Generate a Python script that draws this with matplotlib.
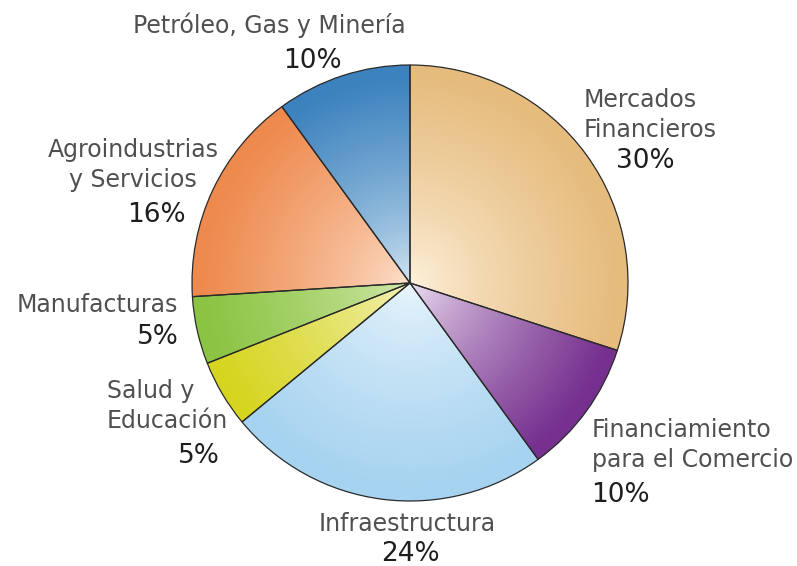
import numpy as np
import matplotlib
matplotlib.use('Agg')
import matplotlib.pyplot as plt
from matplotlib.colors import to_rgb

# ---- data ----
sectors = ['Mercados\nFinancieros', 'Financiamiento\npara el Comercio', 'Infraestructura',
           'Salud y\nEducación', 'Manufacturas', 'Agroindustrias\ny Servicios',
           'Petróleo, Gas y Minería']
shares = [30, 10, 24, 5, 5, 16, 10]
pct_labels = ['30%', '10%', '24%', '5%', '5%', '16%', '10%']
edge_colors = ['#E6BC7E', '#76308F', '#A6D3F0', '#D6D520', '#8BC443', '#EE8A4E', '#3C82BE']
center_colors = ['#FFF4E2', '#F4EAF6', '#EEF7FD', '#F6F4C4', '#D8EBB4', '#FEE6D4', '#DCECF6']

# ---- layout (pixel positions of label lines) ----
# (x, ha, first baseline) for name lines; (x, ha, baseline) for percentages
name_pos = [(584, 'left', 107), (592, 'left', 437), (407, 'center', 531),
            (107, 'left', 398), (178, 'right', 312), (133, 'center', 157),
            (269, 'center', 33)]
pct_pos = [(645, 'center', 168), (591, 'left', 502), (410, 'center', 561),
           (220, 'right', 463), (179, 'right', 344), (156, 'center', 222),
           (312, 'center', 68)]
line_step = 30

W, H = 797, 566
cx, cy, R = 410, 283, 218
fig = plt.figure(figsize=(W / 100, H / 100), dpi=100)
ax = fig.add_axes([0, 0, 1, 1])

wedges, _ = ax.pie(shares, startangle=90, counterclock=False, radius=1, center=(0, 0),
                   wedgeprops=dict(linewidth=0.9, edgecolor='#2a2a2a'))
ax.set_xlim(-cx / R, (W - cx) / R)
ax.set_ylim(-(H - cy) / R, cy / R)
ax.axis('off')

n = 700
g = np.linspace(-1, 1, n)
X, Y = np.meshgrid(g, g)
r = np.clip(np.hypot(X, Y), 0, 1)
t = np.clip(r / 0.95, 0, 1) ** 0.7
for w, ec, cc in zip(wedges, edge_colors, center_colors):
    e = np.array(to_rgb(ec)); c = np.array(to_rgb(cc))
    img = c[None, None, :] * (1 - t[..., None]) + e[None, None, :] * t[..., None]
    im = ax.imshow(img, extent=(-1, 1, -1, 1), origin='lower', zorder=1,
                   interpolation='bilinear')
    im.set_clip_path(w)
    w.set_facecolor('none')
    w.set_zorder(2)

def px2d(x, y):
    return (x - cx) / R, (cy - y) / R

font = 'DejaVu Sans'
for name, (nx, nha, nb), pct, (qx, qha, qb) in zip(sectors, name_pos, pct_labels, pct_pos):
    for i, line in enumerate(name.split('\n')):
        dx, dy = px2d(nx, nb + i * line_step)
        ax.text(dx, dy, line, ha=nha, va='baseline', fontsize=17,
                color='#505050', family=font)
    dx, dy = px2d(qx, qb)
    ax.text(dx, dy, pct, ha=qha, va='baseline', fontsize=19,
            color='#1e1e1e', family=font)

fig.savefig('out.png', dpi=100, facecolor='white')
